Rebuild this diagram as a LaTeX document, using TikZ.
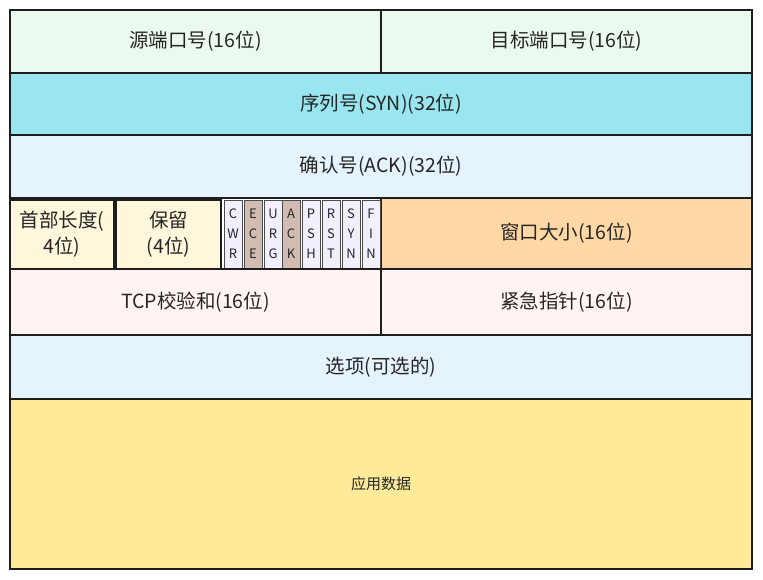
\documentclass[tikz,border=0pt]{standalone}
\usepackage{fontspec}
\newfontfamily\cjk{Noto Sans CJK SC}
\definecolor{linec}{HTML}{1E1E1E}
\definecolor{textc}{HTML}{262626}
\definecolor{portc}{HTML}{EBF9EE}
\definecolor{seqc}{HTML}{99E6F0}
\definecolor{ackc}{HTML}{E5F3FC}
\definecolor{lenc}{HTML}{FEF7DB}
\definecolor{flagc}{HTML}{F3EEFB}
\definecolor{flagd}{HTML}{D2BCB2}
\definecolor{winc}{HTML}{FFD8A5}
\definecolor{sumc}{HTML}{FFF4F2}
\definecolor{datac}{HTML}{FEEA99}
\tikzset{
  cell/.style={draw=linec, line width=1.6pt, inner sep=0pt, outer sep=0pt,
    anchor=north west, align=center, text=textc,
    font=\cjk\fontsize{19.5}{26}\selectfont},
  flagbox/.style={draw=linec!80, line width=1pt, inner sep=0pt, outer sep=0pt,
    anchor=north west, align=center, text=textc, fill=flagc,
    minimum width=18pt, minimum height=68pt,
    font=\cjk\fontsize{13}{20}\selectfont},
}
\begin{document}
\begin{tikzpicture}[x=1pt,y=-1pt]
\useasboundingbox (0,0) rectangle (763,579);
% row 1: ports
\node[cell, fill=portc, minimum width=371pt, minimum height=63pt] (src) at (10,10) {源端口号(16位)};
\node[cell, fill=portc, minimum width=371pt, minimum height=63pt] (dst) at (381,10) {目标端口号(16位)};
% rows 2 and 3: sequence and acknowledgement numbers
\node[cell, fill=seqc, minimum width=742pt, minimum height=62pt] (seq) at (10,73) {序列号(SYN)(32位)};
\node[cell, fill=ackc, minimum width=742pt, minimum height=63pt] (ack) at (10,135) {确认号(ACK)(32位)};
% row 4: header length, reserved, flags, window
\node[cell, fill=winc, minimum width=371pt, minimum height=71pt] (win) at (381,198) {窗口大小(16位)};
\node[cell, fill=lenc, minimum width=104pt, minimum height=69pt] (hlen) at (10,200) {首部长度(\\4位)};
\node[cell, fill=lenc, minimum width=105pt, minimum height=69pt] (rsv) at (116,200) {保留\\(4位)};
\node[flagbox] (cwr) at (224,200) {C\\W\\R};
\node[flagbox, fill=flagd] (ece) at (244,200) {E\\C\\E};
\node[flagbox] (urgf) at (264,200) {U\\R\\G};
\node[flagbox, fill=flagd] (ackf) at (282,200) {A\\C\\K};
\node[flagbox] (psh) at (302,200) {P\\S\\H};
\node[flagbox] (rst) at (322,200) {R\\S\\T};
\node[flagbox] (syn) at (342,200) {S\\Y\\N};
\node[flagbox] (fin) at (362,200) {F\\I\\N};
% row 5: checksum and urgent pointer
\node[cell, fill=sumc, minimum width=371pt, minimum height=66pt] (csum) at (10,269) {TCP校验和(16位)};
\node[cell, fill=sumc, minimum width=371pt, minimum height=66pt] (urg) at (381,269) {紧急指针(16位)};
% options and payload
\node[cell, fill=ackc, minimum width=742pt, minimum height=64pt] (opt) at (10,335) {选项(可选的)};
\node[cell, fill=datac, minimum width=742pt, minimum height=170pt,
  font=\cjk\fontsize{15}{18}\selectfont] (data) at (10,399) {应用数据};
\end{tikzpicture}
\end{document}
